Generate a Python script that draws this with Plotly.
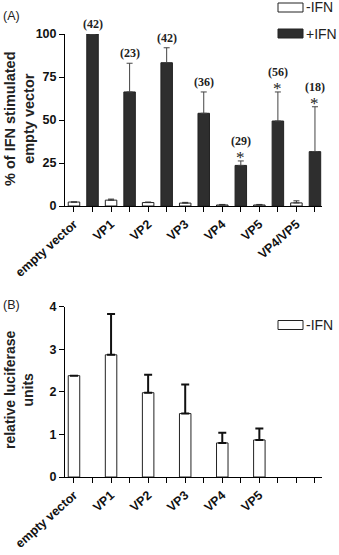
import plotly.graph_objects as go

# ---------------- data ----------------
categories = ["empty vector", "VP1", "VP2", "VP3", "VP4", "VP5", "VP4/VP5"]

# Panel A: % of IFN stimulated empty vector
minus_ifn_A = [2.3, 3.4, 2.0, 1.7, 0.6, 0.6, 1.8]
minus_err_A = [0.0, 0.6, 0.3, 0.4, 0.3, 0.3, 1.2]
plus_ifn_A = [100, 66.3, 83.3, 53.9, 23.6, 49.4, 31.6]
plus_err_A = [0.0, 16.7, 8.7, 12.4, 2.6, 16.9, 26.1]
n_labels = ["(42)", "(23)", "(42)", "(36)", "(29)", "(56)", "(18)"]
significant = [False, False, False, False, True, True, True]

# Panel B: relative luciferase units (-IFN)
categories_B = ["empty vector", "VP1", "VP2", "VP3", "VP4", "VP5"]
minus_ifn_B = [2.38, 2.87, 1.98, 1.49, 0.80, 0.87]
minus_err_B = [0.0, 0.96, 0.42, 0.68, 0.24, 0.27]

yticks_A = [0, 25, 50, 75, 100]
yticks_B = [0, 1, 2, 3, 4]

# ---------------- layout helpers ----------------
W, H = 339, 555
FONT = "Arial, Liberation Sans, sans-serif"
SERIF = "Times New Roman, Liberation Serif, serif"
DARK = "#2e2e2e"

ncat = len(categories)
pos_minus = [2 * i for i in range(ncat)]
pos_plus = [2 * i + 1 for i in range(ncat)]
tickvals = list(range(2 * ncat))
ticktext = []
for c in categories:
    ticktext += [c, ""]
ticktext_B = []
for i in range(ncat):
    ticktext_B += [categories_B[i] if i < len(categories_B) else "", ""]

def px_x(p):
    return p / W

def px_y(p):
    return 1 - p / H

fig = go.Figure()

# Panel A
fig.add_trace(go.Bar(
    x=pos_minus, y=minus_ifn_A, width=0.62, name="-IFN",
    marker=dict(color="white", line=dict(color="#222", width=1)),
    error_y=dict(type="data", array=minus_err_A, arrayminus=[0] * ncat, symmetric=False,
                 color="#333", thickness=1, width=3),
    xaxis="x", yaxis="y", showlegend=False,
))
fig.add_trace(go.Bar(
    x=pos_plus, y=plus_ifn_A, width=0.62, name="+IFN",
    marker=dict(color=DARK, line=dict(color="#222", width=1)),
    error_y=dict(type="data", array=plus_err_A, arrayminus=[0] * ncat, symmetric=False,
                 color="#444", thickness=1, width=3),
    xaxis="x", yaxis="y", showlegend=False,
))

# Panel B
fig.add_trace(go.Bar(
    x=pos_minus[:len(categories_B)], y=minus_ifn_B, width=0.62, name="-IFN",
    marker=dict(color="white", line=dict(color="#222", width=1)),
    error_y=dict(type="data", array=minus_err_B, arrayminus=[0] * len(minus_err_B), symmetric=False,
                 color="#111", thickness=2, width=4),
    xaxis="x2", yaxis="y2", showlegend=False,
))

xdom = [px_x(65), px_x(322)]
xrange_ = [-0.485, 13.38]
axis_common = dict(showline=True, linecolor="black", linewidth=1, ticks="outside",
                   ticklen=5, tickcolor="black", showgrid=False, zeroline=False,
                   automargin=False,
                   tickfont=dict(family=FONT, size=12.5, color="#111", weight="bold"))
yfont = dict(family=FONT, size=12.5, color="#111", weight="bold")

fig.update_layout(
    template="none",
    width=W, height=H, margin=dict(l=0, r=0, t=0, b=0, autoexpand=False),
    paper_bgcolor="white", plot_bgcolor="white", barmode="overlay",
    xaxis=dict(domain=xdom, range=xrange_, tickvals=tickvals, ticktext=ticktext,
               tickangle=-42, anchor="y", **axis_common),
    yaxis=dict(domain=[px_y(206), px_y(34)], range=[0, 100], tickvals=yticks_A,
               anchor="x", **{**axis_common, "tickfont": yfont}),
    xaxis2=dict(domain=xdom, range=xrange_, tickvals=tickvals, ticktext=ticktext_B,
                tickangle=-42, anchor="y2", **axis_common),
    yaxis2=dict(domain=[px_y(477), px_y(306.7)], range=[0, 4], tickvals=yticks_B,
                anchor="x2", **{**axis_common, "tickfont": yfont}),
)

ann = []
# n labels & significance stars
for i in range(ncat):
    top = plus_ifn_A[i] + plus_err_A[i]
    if significant[i]:
        ann.append(dict(x=pos_plus[i], y=top, xref="x", yref="y", text="*", showarrow=False,
                        yanchor="bottom", yshift=-8,
                        font=dict(family=SERIF, size=17, color="#222")))
        ann.append(dict(x=pos_plus[i], y=top, xref="x", yref="y", text="<b>" + n_labels[i] + "</b>",
                        showarrow=False, yanchor="bottom", yshift=11,
                        font=dict(family=SERIF, size=12, color="#222")))
    else:
        ann.append(dict(x=pos_plus[i], y=top, xref="x", yref="y", text="<b>" + n_labels[i] + "</b>",
                        showarrow=False, yanchor="bottom", yshift=1,
                        font=dict(family=SERIF, size=12, color="#222")))

# panel labels
ann.append(dict(x=px_x(1), y=px_y(16), xref="paper", yref="paper", text="(A)", showarrow=False,
                xanchor="left", yanchor="middle", font=dict(family=FONT, size=12.5, color="#222")))
ann.append(dict(x=px_x(1), y=px_y(305), xref="paper", yref="paper", text="(B)", showarrow=False,
                xanchor="left", yanchor="middle", font=dict(family=FONT, size=12.5, color="#222")))

# y titles
ann.append(dict(x=px_x(19), y=px_y(119), xref="paper", yref="paper",
                text="<b>% of IFN stimulated<br>empty vector</b>", showarrow=False, textangle=-90,
                xanchor="center", yanchor="middle",
                font=dict(family=FONT, size=14.5, color="#222")))
ann.append(dict(x=px_x(19), y=px_y(390), xref="paper", yref="paper",
                text="<b>relative luciferase<br>units</b>", showarrow=False, textangle=-90,
                xanchor="center", yanchor="middle",
                font=dict(family=FONT, size=14, color="#222")))

# legends (drawn)
shapes = []
legend_items = [(7.5, "white", "-IFN"), (33.5, DARK, "+IFN"), (325, "white", "-IFN")]
for yc, col, lab in legend_items:
    shapes.append(dict(type="rect", xref="paper", yref="paper",
                       x0=px_x(278), x1=px_x(303), y0=px_y(yc - 4.5), y1=px_y(yc + 4.5),
                       fillcolor=col, line=dict(color="#222", width=1)))
    ann.append(dict(x=px_x(303.5), y=px_y(yc), xref="paper", yref="paper", text=lab, showarrow=False,
                    xanchor="left", yanchor="middle", font=dict(family=FONT, size=14, color="#222")))

fig.update_layout(annotations=ann, shapes=shapes)
fig.write_html("out.html", config={"displayModeBar": False},
               post_script="document.body.style.margin='0';")
